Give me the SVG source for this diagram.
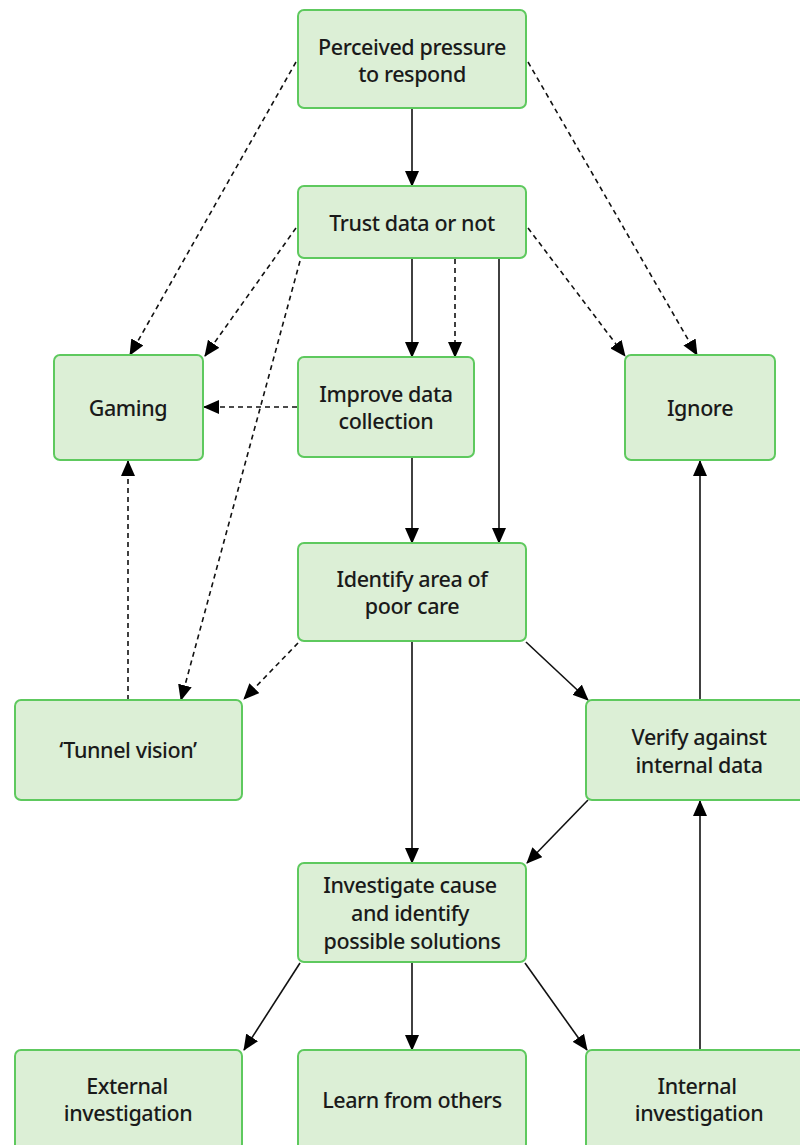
<svg xmlns="http://www.w3.org/2000/svg" width="800" height="1145" viewBox="0 0 800 1145">
<defs>
<style>
.box{fill:#dcefd6;stroke:#5ec95e;stroke-width:2}
.t{font-family:"Noto Sans","Liberation Sans",sans-serif;font-size:21.5px;font-weight:500;fill:#1a1a1a;text-anchor:middle;dominant-baseline:central;letter-spacing:-0.4px}
.s{stroke:#111;stroke-width:1.6;fill:none}
.d{stroke:#111;stroke-width:1.6;fill:none;stroke-dasharray:5 4}
</style>
<marker id="ah" markerWidth="16" markerHeight="14" refX="15" refY="7" orient="auto" markerUnits="userSpaceOnUse">
<path d="M0,0 L16,7 L0,14 Z" fill="#000"/>
</marker>
</defs>
<rect width="800" height="1145" fill="#fff"/>
<g id="connectors">
<line class="s" x1="412" y1="109" x2="412" y2="186" marker-end="url(#ah)"/>
<line class="d" x1="296" y1="62" x2="130" y2="355" marker-end="url(#ah)"/>
<line class="d" x1="528" y1="62" x2="697" y2="355" marker-end="url(#ah)"/>
<line class="d" x1="296" y1="228" x2="205" y2="356" marker-end="url(#ah)"/>
<line class="d" x1="528" y1="228" x2="625" y2="356" marker-end="url(#ah)"/>
<line class="s" x1="412" y1="259" x2="412" y2="357" marker-end="url(#ah)"/>
<line class="d" x1="455" y1="259" x2="455" y2="357" marker-end="url(#ah)"/>
<line class="s" x1="499" y1="259" x2="499" y2="543" marker-end="url(#ah)"/>
<line class="d" x1="300" y1="261" x2="181" y2="700" marker-end="url(#ah)"/>
<line class="d" x1="297" y1="407" x2="204" y2="407" marker-end="url(#ah)"/>
<line class="s" x1="412" y1="458" x2="412" y2="543" marker-end="url(#ah)"/>
<line class="d" x1="128" y1="700" x2="128" y2="461" marker-end="url(#ah)"/>
<line class="d" x1="298" y1="643" x2="244" y2="699" marker-end="url(#ah)"/>
<line class="s" x1="526" y1="642" x2="588" y2="700" marker-end="url(#ah)"/>
<line class="s" x1="412" y1="642" x2="412" y2="863" marker-end="url(#ah)"/>
<line class="s" x1="700" y1="700" x2="700" y2="461" marker-end="url(#ah)"/>
<line class="s" x1="588" y1="800" x2="527" y2="863" marker-end="url(#ah)"/>
<line class="s" x1="700" y1="1050" x2="700" y2="801" marker-end="url(#ah)"/>
<line class="s" x1="300" y1="963" x2="244" y2="1050" marker-end="url(#ah)"/>
<line class="s" x1="412" y1="963" x2="412" y2="1050" marker-end="url(#ah)"/>
<line class="s" x1="525" y1="963" x2="587" y2="1050" marker-end="url(#ah)"/>
</g>
<g id="n-perceived"><rect class="box" x="298" y="10" width="228" height="98" rx="6"/><text class="t" x="412" y="46">Perceived pressure</text><text class="t" x="412" y="73">to respond</text></g>
<g id="n-trust"><rect class="box" x="298" y="186" width="228" height="72" rx="6"/><text class="t" x="412" y="222">Trust data or not</text></g>
<g id="n-gaming"><rect class="box" x="54" y="355" width="149" height="105" rx="6"/><text class="t" x="128" y="407">Gaming</text></g>
<g id="n-improve"><rect class="box" x="298" y="357" width="176" height="100" rx="6"/><text class="t" x="386" y="393">Improve data</text><text class="t" x="386" y="420">collection</text></g>
<g id="n-ignore"><rect class="box" x="625" y="355" width="150" height="105" rx="6"/><text class="t" x="700" y="407">Ignore</text></g>
<g id="n-identify"><rect class="box" x="298" y="543" width="228" height="98" rx="6"/><text class="t" x="412" y="578">Identify area of</text><text class="t" x="412" y="605">poor care</text></g>
<g id="n-tunnel"><rect class="box" x="15" y="700" width="227" height="100" rx="6"/><text class="t" x="128" y="749">‘Tunnel vision’</text></g>
<g id="n-verify"><rect class="box" x="586" y="700" width="228" height="100" rx="6"/><text class="t" x="699" y="736">Verify against</text><text class="t" x="699" y="764">internal data</text></g>
<g id="n-investigate"><rect class="box" x="298" y="863" width="228" height="99" rx="6"/><text class="t" x="410" y="884">Investigate cause</text><text class="t" x="410" y="912">and identify</text><text class="t" x="412" y="940">possible solutions</text></g>
<g id="n-external"><rect class="box" x="15" y="1050" width="227" height="100" rx="6"/><text class="t" x="127" y="1085">External</text><text class="t" x="128" y="1112">investigation</text></g>
<g id="n-learn"><rect class="box" x="298" y="1050" width="228" height="100" rx="6"/><text class="t" x="412" y="1099">Learn from others</text></g>
<g id="n-internal"><rect class="box" x="586" y="1050" width="228" height="100" rx="6"/><text class="t" x="697" y="1085">Internal</text><text class="t" x="699" y="1112">investigation</text></g>
</svg>
